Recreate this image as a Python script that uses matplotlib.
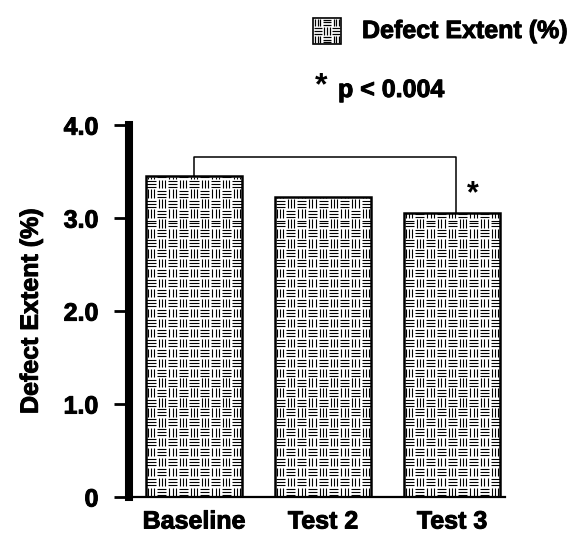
import numpy as np
import matplotlib.pyplot as plt
import matplotlib.patheffects as pe
from matplotlib.collections import LineCollection
from matplotlib.patches import Rectangle

plt.rcParams['font.family'] = ['Liberation Sans', 'DejaVu Sans']
plt.rcParams['font.weight'] = 'bold'

groups = ["Baseline", "Test 2", "Test 3"]
extent = [3.45, 3.23, 3.06]
yticks = [0, 1.0, 2.0, 3.0, 4.0]
yticklabels = ["0", "1.0", "2.0", "3.0", "4.0"]

heavy = [pe.withStroke(linewidth=0.7, foreground="black")]


def weave(target, x0, y0, w, h, nx, ch, transform, lw=0.8):
    # basket weave: checkerboard of 3 vertical / 3 horizontal strokes
    cw = w / nx
    segs = []
    ny = int(np.ceil(h / ch - 1e-9))
    for j in range(ny):
        cy = y0 + j * ch
        hh = min(ch, y0 + h - cy)
        for i in range(nx):
            cx = x0 + i * cw
            if (i + j) % 2 == 0:
                for f in (0.2, 0.5, 0.8):
                    xx = cx + f * cw
                    segs.append([(xx, cy + 0.08 * hh), (xx, cy + 0.92 * hh)])
            else:
                for f in (0.2, 0.5, 0.8):
                    yy = cy + f * ch
                    if yy < cy + hh:
                        segs.append([(cx + 0.08 * cw, yy), (cx + 0.92 * cw, yy)])
    lc = LineCollection(segs, colors="black", linewidths=lw, transform=transform)
    if hasattr(target, "add_collection"):
        target.add_collection(lc)
    else:
        target.add_artist(lc)


fig = plt.figure(figsize=(5.74, 5.35), dpi=100)
ax = fig.add_axes([0.2247, 0.071, 0.655, 0.695])

x = np.arange(len(groups))
width = 0.75
ax.bar(x, extent, width=width, color="white", edgecolor="black", linewidth=1.8, zorder=2)
for xi, v in zip(x, extent):
    weave(ax, xi - width / 2, 0, width, v, 9, 0.107, ax.transData)

ax.set_xlim(-0.504, 2.41)
ax.set_ylim(0, 4.0)
ax.set_yticks(yticks)
ax.set_yticklabels(yticklabels, fontsize=18, fontweight="bold")
ax.set_xticks(x)
ax.set_xticklabels(groups, fontsize=18, fontweight="bold")
ax.tick_params(axis="y", length=11, width=2, pad=11)
ax.tick_params(axis="x", length=0, pad=9)
for t in ax.get_xticklabels() + ax.get_yticklabels():
    t.set_path_effects(heavy)
ax.spines["top"].set_visible(False)
ax.spines["right"].set_visible(False)
ax.spines["left"].set_linewidth(5.8)
ax.spines["bottom"].set_linewidth(1.6)
ylab = ax.set_ylabel("Defect Extent (%)", fontsize=18, fontweight="bold", labelpad=15)
ylab.set_path_effects(heavy)

# significance bracket
ax.plot([0, 0, 2.03, 2.03], [extent[0], 3.66, 3.66, extent[2]],
        color="black", linewidth=1.1, clip_on=False, zorder=3)
ax.text(2.16, 3.17, "*", fontsize=22, fontweight="bold", ha="center", va="baseline")

# legend
sx, sy, sw, sh = 313 / 574, 1 - 44 / 535, 28 / 574, 26 / 535
fig.patches.append(Rectangle((sx, sy), sw, sh, transform=fig.transFigure,
                             facecolor="white", edgecolor="black", linewidth=1.2))
weave(fig, sx, sy, sw, sh, 3, sh / 3, fig.transFigure, lw=0.9)
fig.text(362 / 574, 1 - 38 / 535, "Defect Extent (%)", fontsize=18,
         fontweight="bold", va="baseline", path_effects=heavy)
fig.text(315 / 574, 1 - 94 / 535, "*", fontsize=23, fontweight="bold", va="baseline")
fig.text(338 / 574, 1 - 97 / 535, "p < 0.004", fontsize=18, fontweight="bold",
         va="baseline", path_effects=heavy)

fig.savefig("out.png", dpi=100)
